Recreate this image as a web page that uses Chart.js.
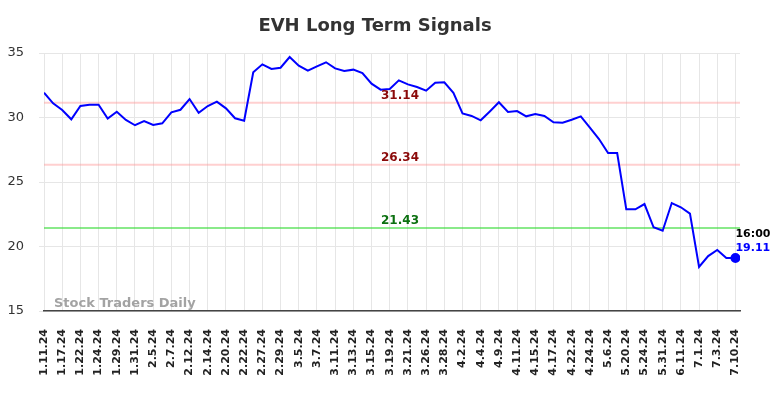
<!DOCTYPE html>
<html>
<head>
<meta charset="utf-8">
<script src="https://cdn.jsdelivr.net/npm/chart.js@4"></script>
<style>
  body { margin: 0; background: #fff; }
  #wrap { width: 784px; height: 398px; position: relative; }
</style>
</head>
<body>
<div id="wrap"><canvas id="signalChart"></canvas></div>
<script>
// dates (only every second one is printed on the axis)
const dates = [
  '1.11.24','1.16.24','1.17.24','1.18.24','1.22.24','1.23.24','1.24.24','1.25.24','1.29.24','1.30.24',
  '1.31.24','2.1.24','2.5.24','2.6.24','2.7.24','2.8.24','2.12.24','2.13.24','2.14.24','2.16.24',
  '2.20.24','2.21.24','2.22.24','2.23.24','2.27.24','2.28.24','2.29.24','3.1.24','3.5.24','3.6.24',
  '3.7.24','3.8.24','3.11.24','3.12.24','3.13.24','3.14.24','3.15.24','3.18.24','3.19.24','3.20.24',
  '3.21.24','3.22.24','3.26.24','3.27.24','3.28.24','4.1.24','4.2.24','4.3.24','4.4.24','4.5.24',
  '4.9.24','4.10.24','4.11.24','4.12.24','4.15.24','4.16.24','4.17.24','4.18.24','4.22.24','4.23.24',
  '4.24.24','4.30.24','5.6.24','5.13.24','5.20.24','5.22.24','5.24.24','5.29.24','5.31.24','6.5.24',
  '6.11.24','6.20.24','7.1.24','7.2.24','7.3.24','7.5.24','7.10.24'
];

const prices = [
  31.92, 31.10, 30.58, 29.86, 30.89, 30.99, 30.99, 29.91, 30.45, 29.81,
  29.40, 29.73, 29.42, 29.55, 30.40, 30.60, 31.43, 30.37, 30.89, 31.23,
  30.71, 29.94, 29.75, 33.50, 34.12, 33.76, 33.86, 34.69, 34.02, 33.63,
  33.97, 34.28, 33.81, 33.60, 33.71, 33.45, 32.62, 32.16, 32.21, 32.88,
  32.57, 32.36, 32.08, 32.70, 32.73, 31.92, 30.32, 30.12, 29.78, 30.47,
  31.18, 30.43, 30.50, 30.09, 30.27, 30.12, 29.63, 29.60, 29.83, 30.09,
  29.21, 28.33, 27.25, 27.25, 22.88, 22.88, 23.29, 21.49, 21.22, 23.37,
  23.04, 22.55, 18.41, 19.26, 19.73, 19.11, 19.11
];

const signalLevels = [31.14, 26.34, 21.43];
const signalColors = ['rgba(255,150,150,0.45)', 'rgba(255,150,150,0.45)', 'rgba(60,220,60,0.6)'];
const signalTextColors = ['#8b0a0a', '#8b0a0a', '#0b7010'];

const yTicks = [15, 20, 25, 30, 35];
const lastTime = '16:00';

const font = 'DejaVu Sans';
const lastIdx = prices.length - 1;

const levelSets = signalLevels.map((lv, k) => ({
  data: [{x: 0, y: lv}, {x: lastIdx + 0.5, y: lv}],
  borderColor: signalColors[k],
  borderWidth: 2,
  pointRadius: 0,
  order: 2
}));

// texts: title, watermark, level labels, last price
const textPlugin = {
  id: 'texts',
  afterDatasetsDraw(chart) {
    const ctx = chart.ctx;
    const xs = chart.scales.x, ys = chart.scales.y;
    ctx.save();
    ctx.font = 'bold 18px "' + font + '"';
    ctx.fillStyle = '#333';
    ctx.textAlign = 'center';
    ctx.textBaseline = 'middle';
    ctx.fillText('EVH Long Term Signals', 375, 26);

    ctx.font = 'bold 13px "' + font + '"';
    ctx.fillStyle = '#a3a3a3';
    ctx.textAlign = 'left';
    ctx.textBaseline = 'alphabetic';
    ctx.fillText('Stock Traders Daily', 54, 307);

    ctx.font = 'bold 12px "' + font + '"';
    ctx.textAlign = 'center';
    ctx.textBaseline = 'middle';
    signalLevels.forEach((lv, k) => {
      ctx.fillStyle = signalTextColors[k];
      ctx.fillText(lv.toFixed(2), 400, ys.getPixelForValue(lv) - 7);
    });

    const px = xs.getPixelForValue(lastIdx), py = ys.getPixelForValue(prices[lastIdx]);
    ctx.font = 'bold 11px "' + font + '"';
    ctx.textAlign = 'left';
    ctx.fillStyle = '#000';
    ctx.fillText(lastTime, px, py - 24);
    ctx.fillStyle = '#0000ff';
    ctx.fillText(prices[lastIdx].toFixed(2), px, py - 10);
    ctx.restore();
  }
};

const ctx = document.getElementById('signalChart').getContext('2d');
const chart = new Chart(ctx, {
  type: 'line',
  data: {
    datasets: [{
      data: prices.map((v, i) => ({x: i, y: v})),
      borderColor: '#0000ff',
      borderWidth: 2,
      pointRadius: prices.map((v, i) => i === lastIdx ? 4 : 0),
      pointBackgroundColor: '#0000ff',
      pointBorderColor: '#0000ff',
      tension: 0,
      order: 1
    }, ...levelSets]
  },
  options: {
    responsive: true,
    maintainAspectRatio: false,
    animation: false,
    layout: { padding: { top: 53, right: 44, left: 0, bottom: 0 } },
    plugins: { legend: { display: false }, tooltip: { enabled: false }, title: { display: false } },
    scales: {
      x: {
        type: 'linear',
        min: 0,
        max: lastIdx + 0.5,
        afterBuildTicks(scale) {
          scale.ticks = dates.map((d, i) => ({value: i})).filter(t => t.value % 2 === 0);
        },
        afterFit(scale) { scale.height = 87; },
        ticks: {
          autoSkip: false,
          maxRotation: 90,
          minRotation: 90,
          padding: 18,
          color: '#222',
          font: { family: font, size: 11, weight: 'bold' },
          callback: (v) => dates[v]
        },
        grid: { color: '#e6e6e6', drawTicks: false },
        border: { display: true, color: '#444', width: 1.5 }
      },
      y: {
        min: 15,
        max: 35,
        afterBuildTicks(scale) { scale.ticks = yTicks.map(v => ({value: v})); },
        afterFit(scale) { scale.width = 44; },
        ticks: {
          padding: 15,
          color: '#333',
          font: { family: font, size: 13 }
        },
        grid: { color: '#e6e6e6', tickLength: 5 },
        border: { display: false }
      }
    }
  },
  plugins: [textPlugin]
});
</script>
</body>
</html>
